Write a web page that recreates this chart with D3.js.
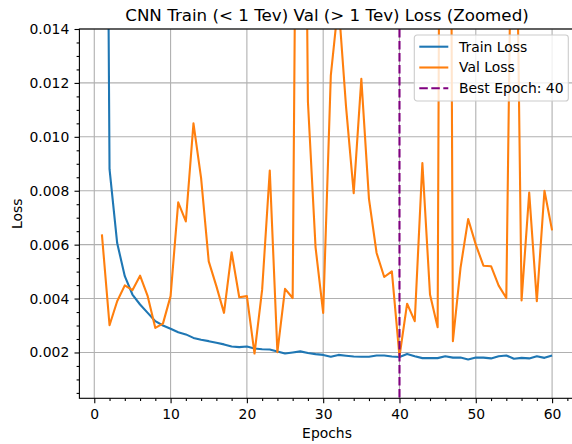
<!DOCTYPE html>
<head>
    <title>CNN Train / Val Loss (Zoomed)</title>
    <script src='https://cdn.jsdelivr.net/npm/d3@7/dist/d3.min.js'></script>
</head>
<style>
body {
  margin: 0;
  background: #fff;
  font-family: 'DejaVu Sans', sans-serif;
}
text {
  font-family: 'DejaVu Sans', sans-serif;
  fill: #000;
}
</style>
<body>
    <svg></svg>
</body>

<script>

    // Data (epochs 1..60)
    var epochs = d3.range(1, 61);
    var trainLoss = [0.052, 0.0088, 0.00606, 0.00483, 0.00415, 0.00378, 0.00347, 0.00316, 0.0030, 0.00288,
        0.00275, 0.00267, 0.00254, 0.00247, 0.00242, 0.00236, 0.0023, 0.00222, 0.0022, 0.00222,
        0.00215, 0.00212, 0.00211, 0.00204, 0.00196, 0.002, 0.00204, 0.00198, 0.00194, 0.00191,
        0.00184, 0.00191, 0.00188, 0.00185, 0.00184, 0.00184, 0.00189, 0.00189, 0.00185, 0.00183,
        0.00194, 0.00186, 0.00179, 0.00179, 0.00179, 0.00186, 0.00181, 0.00181, 0.00174, 0.00181,
        0.00181, 0.00178, 0.00186, 0.00189, 0.00177, 0.0018, 0.00178, 0.00186, 0.0018, 0.00189];
    var valLoss = [0.00638, 0.00301, 0.0039, 0.00449, 0.00431, 0.00485, 0.00409, 0.00291, 0.00307, 0.00409,
        0.00757, 0.00686, 0.0105, 0.00847, 0.00538, 0.00446, 0.00347, 0.00572, 0.00405, 0.00409,
        0.00196, 0.00433, 0.00875, 0.00201, 0.00436, 0.00402, 0.041, 0.0113, 0.0059, 0.00347,
        0.01228, 0.0150, 0.0111, 0.00791, 0.01215, 0.0077, 0.00569, 0.0048, 0.00501, 0.00185,
        0.00381, 0.00316, 0.00903, 0.00415, 0.00294, 0.07, 0.00242, 0.00514, 0.00695, 0.006,
        0.00522, 0.0052, 0.00448, 0.00402, 0.026, 0.00393, 0.00793, 0.0039, 0.008, 0.00653];
    var bestEpoch = 40;
    var xTicks = [0, 10, 20, 30, 40, 50, 60];
    var yTicks = [0.002, 0.004, 0.006, 0.008, 0.010, 0.012, 0.014];
    var legendLabels = ['Train Loss', 'Val Loss', 'Best Epoch: ' + bestEpoch];

    // Variables
    var vWidth = 572;
    var vHeight = 444;
    var plotLeft = 79.4, plotRight = 574.6, plotTop = 29, plotBottom = 398.3;
    var fontSize = 13.9;
    var lineWidth = 2.1;
    var dash = '8.5,3.5';

    var svg = d3.select('svg')
        .attr('width', vWidth)
        .attr('height', vHeight);

    var x = d3.scaleLinear().domain([-1.95, 62.95]).range([plotLeft, plotRight]);
    var y = d3.scaleLinear().domain([0.0003, 0.014]).range([plotBottom, plotTop]);

    // Clip for lines
    svg.append('clipPath').attr('id', 'plotClip')
        .append('rect')
        .attr('x', plotLeft).attr('y', plotTop)
        .attr('width', plotRight - plotLeft).attr('height', plotBottom - plotTop);

    // Grid lines at major ticks
    var grid = svg.append('g').attr('class', 'grid');
    grid.selectAll('.gx').data(xTicks).enter().append('line')
        .attr('x1', function (d) { return x(d); }).attr('x2', function (d) { return x(d); })
        .attr('y1', plotTop).attr('y2', plotBottom)
        .style('stroke', '#b0b0b0').style('stroke-width', 1.1);
    grid.selectAll('.gy').data(yTicks).enter().append('line')
        .attr('x1', plotLeft).attr('x2', plotRight)
        .attr('y1', function (d) { return y(d); }).attr('y2', function (d) { return y(d); })
        .style('stroke', '#b0b0b0').style('stroke-width', 1.1);

    // Lines
    var line = d3.line()
        .x(function (d) { return x(d[0]); })
        .y(function (d) { return y(d[1]); });

    var plot = svg.append('g').attr('clip-path', 'url(#plotClip)');

    plot.append('path')
        .datum(d3.zip(epochs, trainLoss))
        .attr('d', line)
        .style('fill', 'none').style('stroke', '#1f77b4').style('stroke-width', lineWidth)
        .style('stroke-linejoin', 'round');

    plot.append('path')
        .datum(d3.zip(epochs, valLoss))
        .attr('d', line)
        .style('fill', 'none').style('stroke', '#ff7f0e').style('stroke-width', lineWidth)
        .style('stroke-linejoin', 'round');

    plot.append('line')
        .attr('x1', x(bestEpoch)).attr('x2', x(bestEpoch))
        .attr('y1', plotTop).attr('y2', plotBottom)
        .style('stroke', '#800080').style('stroke-width', lineWidth)
        .style('stroke-dasharray', dash);

    // Axes (major + minor ticks)
    var xAxis = svg.append('g').attr('transform', 'translate(0,' + plotBottom + ')')
        .call(d3.axisBottom(x).tickValues(xTicks).tickSize(4.9).tickSizeOuter(0).tickPadding(5.5)
            .tickFormat(d3.format('d')));
    svg.append('g').attr('transform', 'translate(0,' + plotBottom + ')')
        .call(d3.axisBottom(x).tickValues(d3.range(-1, 63, 2).filter(function (d) { return d % 10 !== 0; }).map(function (d) { return d + 1; }).filter(function (d) { return d % 10 !== 0 && d < 63; }))
            .tickSize(2.8).tickSizeOuter(0).tickFormat(''))
        .call(function (g) { g.select('.domain').remove(); });

    var yAxis = svg.append('g').attr('transform', 'translate(' + plotLeft + ',0)')
        .call(d3.axisLeft(y).tickValues(yTicks).tickSize(4.9).tickSizeOuter(0).tickPadding(5.2)
            .tickFormat(d3.format('.3f')));
    svg.append('g').attr('transform', 'translate(' + plotLeft + ',0)')
        .call(d3.axisLeft(y).tickValues([0.0005, 0.001, 0.0015, 0.0025, 0.003, 0.0035, 0.0045, 0.005, 0.0055,
                0.0065, 0.007, 0.0075, 0.0085, 0.009, 0.0095, 0.0105, 0.011, 0.0115, 0.0125, 0.013, 0.0135])
            .tickSize(2.8).tickSizeOuter(0).tickFormat(''))
        .call(function (g) { g.select('.domain').remove(); });

    svg.selectAll('.tick text').style('font-size', fontSize + 'px').style('font-family', "'DejaVu Sans'");
    svg.selectAll('.tick line').style('stroke', '#000').style('stroke-width', 1.1);

    // Spines (right spine falls outside the picture)
    svg.append('rect')
        .attr('x', plotLeft).attr('y', plotTop)
        .attr('width', plotRight - plotLeft).attr('height', plotBottom - plotTop)
        .style('fill', 'none').style('stroke', '#000').style('stroke-width', 1.1);
    xAxis.select('.domain').remove();
    yAxis.select('.domain').remove();

    // Title and axis labels
    svg.append('text')
        .attr('x', (plotLeft + plotRight) / 2).attr('y', 21)
        .attr('text-anchor', 'middle')
        .style('font-size', '16.7px')
        .text('CNN Train (< 1 Tev) Val (> 1 Tev) Loss (Zoomed)');

    svg.append('text')
        .attr('x', (plotLeft + plotRight) / 2).attr('y', 438)
        .attr('text-anchor', 'middle')
        .style('font-size', fontSize + 'px')
        .text('Epochs');

    svg.append('text')
        .attr('transform', 'translate(22,' + (plotTop + plotBottom) / 2 + ')rotate(-90)')
        .attr('text-anchor', 'middle')
        .style('font-size', fontSize + 'px')
        .text('Loss');

    // Legend
    var legend = svg.append('g').attr('transform', 'translate(414.3,35)');
    legend.append('rect')
        .attr('width', 154).attr('height', 66).attr('rx', 2.8)
        .style('fill', '#fff').style('fill-opacity', 0.8)
        .style('stroke', '#cccccc').style('stroke-width', 1.1);

    var legendStyles = [
        { color: '#1f77b4', dash: null },
        { color: '#ff7f0e', dash: null },
        { color: '#800080', dash: dash }
    ];
    var item = legend.selectAll('.item').data(legendLabels).enter().append('g')
        .attr('transform', function (d, i) { return 'translate(0,' + (11.7 + i * 20.8) + ')'; });
    item.append('line')
        .attr('x1', 5).attr('x2', 34).attr('y1', 0).attr('y2', 0)
        .style('stroke', function (d, i) { return legendStyles[i].color; })
        .style('stroke-width', lineWidth)
        .style('stroke-dasharray', function (d, i) { return legendStyles[i].dash; });
    item.append('text')
        .attr('x', 44.7).attr('dy', '0.35em')
        .style('font-size', fontSize + 'px')
        .text(function (d) { return d; });

</script>
